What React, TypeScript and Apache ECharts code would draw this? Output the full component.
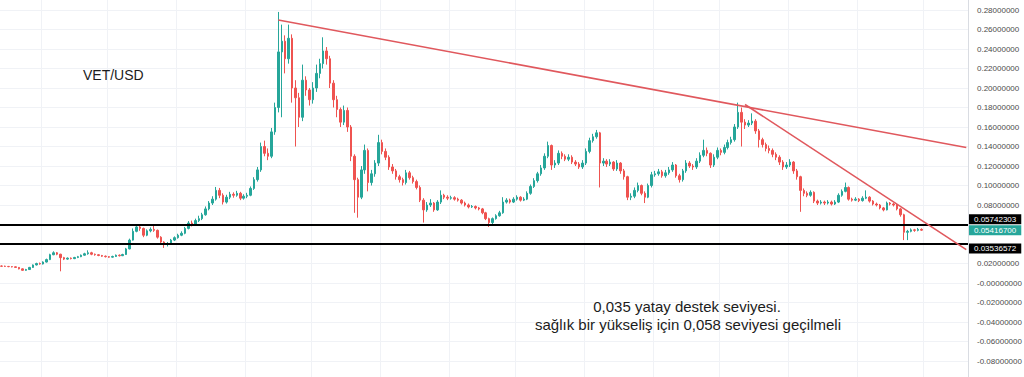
import React, { useEffect, useRef } from "react";
import * as echarts from "echarts";

// ---- data ----
const firstOpen = 0.0174;
const closes = [
  0.0172, 0.0170, 0.0168, 0.0166, 0.0160, 0.0145, 0.0130, 0.0138, 0.0160, 0.0185,
  0.0200, 0.0195, 0.0215, 0.0240, 0.0290, 0.0310, 0.0295, 0.0260, 0.0245, 0.0255,
  0.0250, 0.0262, 0.0270, 0.0285, 0.0300, 0.0310, 0.0295, 0.0290, 0.0282, 0.0275,
  0.0270, 0.0265, 0.0272, 0.0285, 0.0280, 0.0292, 0.0350, 0.0440, 0.0530, 0.0575,
  0.0560, 0.0490, 0.0535, 0.0550, 0.0540, 0.0470, 0.0420, 0.0395, 0.0405, 0.0440,
  0.0465, 0.0490, 0.0510, 0.0560, 0.0615, 0.0600, 0.0640, 0.0660, 0.0700, 0.0760,
  0.0820, 0.0860, 0.0950, 0.0900, 0.0830, 0.0880, 0.0910, 0.0900, 0.0920, 0.0870,
  0.0890, 0.0900, 0.0970, 0.1060, 0.1160, 0.1400, 0.1330, 0.1300, 0.1550, 0.1800,
  0.2370, 0.2480, 0.2300, 0.2510, 0.2000, 0.1900, 0.1700, 0.2080, 0.1980, 0.1880,
  0.2000, 0.2150, 0.2250, 0.2380, 0.2300, 0.2050, 0.1880, 0.1780, 0.1650, 0.1770,
  0.1600, 0.1300, 0.1060, 0.0880, 0.1160, 0.1360, 0.1030, 0.1120, 0.1230, 0.1440,
  0.1350, 0.1290, 0.1190, 0.1150, 0.1090, 0.1060, 0.1030, 0.1130, 0.1080, 0.1040,
  0.0980, 0.0850, 0.0750, 0.0800, 0.0820, 0.0750, 0.0830, 0.0900, 0.0880, 0.0870,
  0.0875, 0.0860, 0.0850, 0.0820, 0.0800, 0.0780, 0.0785, 0.0770, 0.0760, 0.0720,
  0.0660, 0.0620, 0.0660, 0.0690, 0.0720, 0.0830, 0.0850, 0.0830, 0.0860, 0.0880,
  0.0850, 0.0860, 0.0920, 0.0990, 0.1050, 0.1120, 0.1180, 0.1300, 0.1410, 0.1210,
  0.1230, 0.1330, 0.1300, 0.1270, 0.1290, 0.1240, 0.1220, 0.1190, 0.1230, 0.1350,
  0.1460, 0.1500, 0.1540, 0.1230, 0.1250, 0.1220, 0.1240, 0.1170, 0.1230, 0.1150,
  0.1090, 0.0880, 0.0890, 0.0950, 0.1000, 0.0920, 0.0880, 0.1000, 0.1110, 0.1120,
  0.1140, 0.1100, 0.1130, 0.1160, 0.1210, 0.1100, 0.1060, 0.1150, 0.1230, 0.1200,
  0.1190, 0.1250, 0.1310, 0.1360, 0.1330, 0.1210, 0.1290, 0.1360, 0.1340, 0.1390,
  0.1440, 0.1470, 0.1600, 0.1750, 0.1650, 0.1620, 0.1640, 0.1660, 0.1560, 0.1470,
  0.1420, 0.1380, 0.1360, 0.1320, 0.1290, 0.1240, 0.1190, 0.1210, 0.1240, 0.1150,
  0.1090, 0.0950, 0.0920, 0.0900, 0.0930, 0.0840, 0.0820, 0.0830, 0.0820, 0.0830,
  0.0810, 0.0830, 0.0900, 0.0940, 0.0980, 0.0860, 0.0850, 0.0860, 0.0845, 0.0870,
  0.0880, 0.0840, 0.0810, 0.0800, 0.0770, 0.0750, 0.0820, 0.0810, 0.0800, 0.0760,
  0.0700, 0.0520, 0.0530, 0.0545, 0.0540, 0.0550, 0.0542,
];
const highs = [
  0.0180, 0.0178, 0.0175, 0.0172, 0.0170, 0.0163, 0.0150, 0.0145, 0.0165, 0.0190,
  0.0208, 0.0210, 0.0222, 0.0250, 0.0300, 0.0325, 0.0318, 0.0300, 0.0268, 0.0262,
  0.0262, 0.0268, 0.0278, 0.0292, 0.0310, 0.0335, 0.0320, 0.0302, 0.0296, 0.0288,
  0.0282, 0.0276, 0.0280, 0.0292, 0.0293, 0.0300, 0.0360, 0.0455, 0.0560, 0.0600,
  0.0598, 0.0568, 0.0550, 0.0570, 0.0585, 0.0548, 0.0480, 0.0428, 0.0420, 0.0452,
  0.0478, 0.0505, 0.0530, 0.0575, 0.0635, 0.0640, 0.0660, 0.0690, 0.0720, 0.0785,
  0.0840, 0.0890, 0.0985, 0.0975, 0.0920, 0.0905, 0.0935, 0.0930, 0.0945, 0.0935,
  0.0910, 0.0925, 0.0990, 0.1085, 0.1190, 0.1440, 0.1460, 0.1380, 0.1590, 0.1850,
  0.2780, 0.2650, 0.2540, 0.2650, 0.2550, 0.2080, 0.1950, 0.2240, 0.2120, 0.2000,
  0.2060, 0.2240, 0.2300, 0.2520, 0.2420, 0.2330, 0.2080, 0.1920, 0.1800, 0.1820,
  0.1800, 0.1620, 0.1320, 0.1080, 0.1200, 0.1420, 0.1380, 0.1160, 0.1260, 0.1520,
  0.1470, 0.1380, 0.1310, 0.1220, 0.1170, 0.1110, 0.1080, 0.1160, 0.1150, 0.1100,
  0.1060, 0.1000, 0.0870, 0.0830, 0.0860, 0.0830, 0.0850, 0.0950, 0.0915, 0.0900,
  0.0895, 0.0890, 0.0875, 0.0860, 0.0835, 0.0815, 0.0800, 0.0795, 0.0780, 0.0770,
  0.0730, 0.0670, 0.0672, 0.0705, 0.0740, 0.0880, 0.0870, 0.0865, 0.0880, 0.0900,
  0.0890, 0.0880, 0.0940, 0.1010, 0.1075, 0.1140, 0.1210, 0.1330, 0.1450, 0.1420,
  0.1260, 0.1360, 0.1350, 0.1320, 0.1320, 0.1310, 0.1260, 0.1240, 0.1260, 0.1380,
  0.1490, 0.1530, 0.1570, 0.1550, 0.1280, 0.1270, 0.1270, 0.1250, 0.1260, 0.1240,
  0.1170, 0.1100, 0.0920, 0.0980, 0.1030, 0.1010, 0.0940, 0.1020, 0.1140, 0.1150,
  0.1170, 0.1160, 0.1160, 0.1190, 0.1240, 0.1220, 0.1120, 0.1170, 0.1260, 0.1250,
  0.1220, 0.1280, 0.1340, 0.1470, 0.1390, 0.1340, 0.1320, 0.1390, 0.1380, 0.1420,
  0.1470, 0.1500, 0.1630, 0.1850, 0.1800, 0.1680, 0.1670, 0.1740, 0.1680, 0.1580,
  0.1490, 0.1440, 0.1410, 0.1380, 0.1340, 0.1310, 0.1260, 0.1240, 0.1270, 0.1250,
  0.1170, 0.1100, 0.0970, 0.0940, 0.0950, 0.0940, 0.0855, 0.0850, 0.0845, 0.0850,
  0.0845, 0.0850, 0.0920, 0.0960, 0.1030, 0.0990, 0.0875, 0.0880, 0.0870, 0.0890,
  0.0950, 0.0890, 0.0850, 0.0825, 0.0810, 0.0780, 0.0835, 0.0830, 0.0820, 0.0810,
  0.0770, 0.0710, 0.0545, 0.0560, 0.0555, 0.0565, 0.0560,
];
const lows = [
  0.0166, 0.0165, 0.0162, 0.0160, 0.0155, 0.0140, 0.0125, 0.0126, 0.0134, 0.0155,
  0.0180, 0.0188, 0.0190, 0.0210, 0.0235, 0.0285, 0.0285, 0.0120, 0.0235, 0.0238,
  0.0242, 0.0245, 0.0255, 0.0265, 0.0280, 0.0290, 0.0285, 0.0280, 0.0275, 0.0268,
  0.0262, 0.0258, 0.0260, 0.0268, 0.0272, 0.0276, 0.0288, 0.0345, 0.0435, 0.0520,
  0.0535, 0.0470, 0.0480, 0.0520, 0.0525, 0.0455, 0.0400, 0.0360, 0.0375, 0.0398,
  0.0430, 0.0455, 0.0480, 0.0500, 0.0550, 0.0580, 0.0590, 0.0625, 0.0645, 0.0690,
  0.0745, 0.0800, 0.0845, 0.0870, 0.0805, 0.0815, 0.0860, 0.0875, 0.0885, 0.0850,
  0.0855, 0.0870, 0.0890, 0.0955, 0.1040, 0.1140, 0.1300, 0.1260, 0.1280, 0.1520,
  0.1750, 0.1700, 0.2150, 0.2250, 0.1850, 0.1400, 0.1600, 0.1660, 0.1920, 0.1820,
  0.1840, 0.1960, 0.2100, 0.2200, 0.2240, 0.2000, 0.1800, 0.1700, 0.1600, 0.1620,
  0.1550, 0.1250, 0.0720, 0.0670, 0.0860, 0.1120, 0.0940, 0.1000, 0.1090, 0.1200,
  0.1320, 0.1260, 0.1160, 0.1120, 0.1060, 0.1030, 0.1000, 0.1010, 0.1060, 0.1020,
  0.0960, 0.0830, 0.0620, 0.0730, 0.0780, 0.0730, 0.0740, 0.0810, 0.0860, 0.0850,
  0.0855, 0.0845, 0.0835, 0.0805, 0.0785, 0.0765, 0.0770, 0.0755, 0.0745, 0.0705,
  0.0645, 0.0575, 0.0605, 0.0650, 0.0680, 0.0710, 0.0815, 0.0815, 0.0820, 0.0845,
  0.0835, 0.0840, 0.0850, 0.0905, 0.0975, 0.1030, 0.1100, 0.1160, 0.1280, 0.1160,
  0.1180, 0.1210, 0.1270, 0.1250, 0.1250, 0.1220, 0.1200, 0.1170, 0.1170, 0.1210,
  0.1330, 0.1440, 0.1480, 0.0980, 0.1200, 0.1190, 0.1200, 0.1150, 0.1150, 0.1120,
  0.1060, 0.0850, 0.0850, 0.0870, 0.0930, 0.0900, 0.0820, 0.0870, 0.0980, 0.1090,
  0.1100, 0.1080, 0.1080, 0.1110, 0.1140, 0.1080, 0.1030, 0.1040, 0.1130, 0.1180,
  0.1160, 0.1170, 0.1230, 0.1290, 0.1300, 0.1180, 0.1190, 0.1270, 0.1310, 0.1320,
  0.1370, 0.1420, 0.1450, 0.1580, 0.1400, 0.1580, 0.1600, 0.1620, 0.1530, 0.1390,
  0.1390, 0.1350, 0.1330, 0.1290, 0.1260, 0.1210, 0.1160, 0.1170, 0.1190, 0.1120,
  0.1060, 0.0730, 0.0890, 0.0880, 0.0885, 0.0820, 0.0800, 0.0805, 0.0800, 0.0805,
  0.0795, 0.0800, 0.0820, 0.0885, 0.0930, 0.0845, 0.0835, 0.0840, 0.0830, 0.0835,
  0.0860, 0.0825, 0.0795, 0.0785, 0.0755, 0.0735, 0.0745, 0.0795, 0.0785, 0.0745,
  0.0680, 0.0440, 0.0440, 0.0520, 0.0525, 0.0530, 0.0535,
];

const slotCount = 280; // time slots on the x axis (candles + empty space on the right)
const resistanceLevel = 0.05742303;
const supportLevel = 0.03536572;
const lastPrice = 0.054167;
// trend lines: [slot index, price]
const trendUpper = [[80, 0.2697], [279, 0.1389]];
const trendLower = [[215, 0.1831], [279, 0.0342]];
const yMin = -0.1;
const yMax = 0.3;
const yStep = 0.02;
// axis labels hidden behind the price tags on the scale
const coveredTicks = [0.04, 0.06];

const pairTitle = "VET/USD";
const noteLine1 = "0,035 yatay destek seviyesi.";
const noteLine2 = "sağlık bir yükseliş için 0,058 seviyesi geçilmeli";

const UP = "#26a69a";
const DOWN = "#ef5350";
const TREND = "#e0585d";
const FONT = '"Liberation Sans", Arial, sans-serif';

function fmt(v: number): string {
  if (Math.abs(v) < 1e-9) return "-0.00000000";
  return v.toFixed(8);
}

export default function App() {
  const ref = useRef<HTMLDivElement>(null);

  useEffect(() => {
    if (!ref.current) return;
    const chart = echarts.init(ref.current, undefined, { renderer: "svg" });

    const categories = Array.from({ length: slotCount }, (_, i) => String(i));
    const candles = closes.map((c, i) => {
      const o = i === 0 ? firstOpen : closes[i - 1];
      return [o, c, lows[i], highs[i]];
    });

    const plotWidth = 968;
    const slotPx = plotWidth / slotCount;
    const vGrid = new Set(
      Array.from({ length: 14 }, (_, j) => Math.round((40 + 68 * j) / slotPx))
    );

    const trendStyle = { color: TREND, width: 1.6, type: "solid" as const };
    const levelStyle = { color: "#000000", width: 2, type: "solid" as const };

    chart.setOption({
      animation: false,
      backgroundColor: "#ffffff",
      grid: {
        left: 0,
        right: 1024 - plotWidth,
        top: -9.5,
        bottom: -3.5,
        containLabel: false,
        outerBoundsMode: "none",
      },
      xAxis: {
        type: "category",
        data: categories,
        boundaryGap: true,
        axisLine: { show: false },
        axisTick: { show: false },
        axisLabel: { show: false },
        splitLine: {
          show: true,
          interval: (idx: number) => vGrid.has(idx),
          lineStyle: { color: "#f0f2f6", width: 1 },
        },
      },
      yAxis: {
        type: "value",
        position: "right",
        min: yMin,
        max: yMax,
        interval: yStep,
        axisLine: { show: true, lineStyle: { color: "#d9dce2", width: 1 } },
        axisTick: { show: false },
        axisLabel: {
          margin: 9,
          fontSize: 8,
          color: "#4c4c4c",
          fontFamily: FONT,
          formatter: (v: number) => {
            if (v > 0.285 || v < -0.085) return "";
            if (coveredTicks.some((t) => Math.abs(t - v) < 1e-9)) return "";
            return fmt(v);
          },
        },
        splitLine: { show: true, lineStyle: { color: "#f0f2f6", width: 1 } },
      },
      series: [
        {
          type: "candlestick",
          data: candles,
          barWidth: "58%",
          itemStyle: {
            color: UP,
            color0: DOWN,
            borderColor: UP,
            borderColor0: DOWN,
            borderWidth: 1,
          },
          markLine: {
            silent: true,
            symbol: ["none", "none"],
            animation: false,
            label: { show: false },
            data: [
              { yAxis: resistanceLevel, lineStyle: levelStyle },
              { yAxis: supportLevel, lineStyle: levelStyle },
              [
                { coord: trendUpper[0], lineStyle: trendStyle },
                { coord: trendUpper[1] },
              ],
              [
                { coord: trendLower[0], lineStyle: trendStyle },
                { coord: trendLower[1] },
              ],
            ],
          },
        },
      ],
    });

    const yRes = chart.convertToPixel({ yAxisIndex: 0 }, resistanceLevel) as number;
    const yLast = chart.convertToPixel({ yAxisIndex: 0 }, lastPrice) as number;
    const ySup = chart.convertToPixel({ yAxisIndex: 0 }, supportLevel) as number;
    const yResLabel = Math.min(yRes, yLast - 11);

    const priceTag = (y: number, text: string, bg: string) => ({
      type: "text",
      x: plotWidth + 1,
      y,
      z: 100,
      style: {
        text,
        fill: "#ffffff",
        font: `8px ${FONT}`,
        lineHeight: 9,
        backgroundColor: bg,
        padding: [1, 5, 0, 5],
        align: "left",
        verticalAlign: "middle",
      },
    });

    chart.setOption({
      graphic: [
        {
          type: "text",
          x: 83,
          y: 75,
          z: 100,
          style: {
            text: pairTitle,
            fill: "#1c1c1c",
            font: `14px ${FONT}`,
            align: "left",
            verticalAlign: "middle",
          },
        },
        {
          type: "text",
          x: 687,
          y: 306,
          z: 100,
          style: {
            text: noteLine1,
            fill: "#1c1c1c",
            font: `15px ${FONT}`,
            align: "center",
            verticalAlign: "middle",
          },
        },
        {
          type: "text",
          x: 688,
          y: 324,
          z: 100,
          style: {
            text: noteLine2,
            fill: "#1c1c1c",
            font: `15px ${FONT}`,
            align: "center",
            verticalAlign: "middle",
          },
        },
        priceTag(yResLabel, fmt(resistanceLevel), "#000000"),
        priceTag(yLast, fmt(lastPrice), UP),
        priceTag(ySup, fmt(supportLevel), "#000000"),
      ],
    });

    return () => chart.dispose();
  }, []);

  return (
    <div
      ref={ref}
      style={{ position: "absolute", left: 0, top: 0, width: 1024, height: 377 }}
    />
  );
}
